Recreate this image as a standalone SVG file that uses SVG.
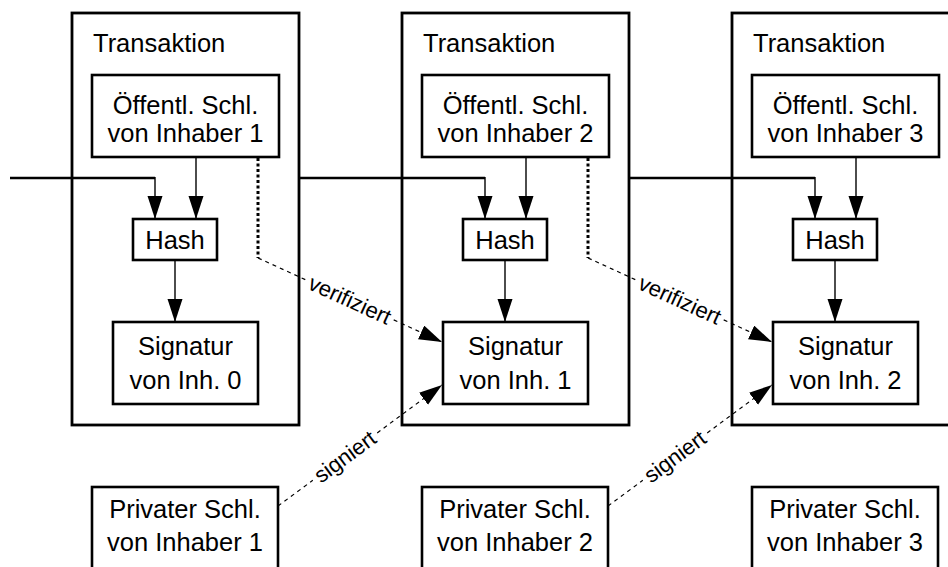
<svg xmlns="http://www.w3.org/2000/svg" width="948" height="567" viewBox="0 0 948 567">
<defs>
<marker id="ah" markerUnits="userSpaceOnUse" markerWidth="24" markerHeight="16" refX="23" refY="7.5" orient="auto">
<path d="M0,0 L23,7.5 L0,15 z" fill="#000"/>
</marker>
<style>
.outer{fill:#fff;stroke:#000;stroke-width:2.8}
.box{fill:#fff;stroke:#000;stroke-width:2.6}
.t{font-family:"Liberation Sans",Arial,sans-serif;font-size:25.5px;fill:#000}
.c{text-anchor:middle}
.lbl{font-family:"Liberation Sans",Arial,sans-serif;font-size:22px;fill:#000;text-anchor:middle;dominant-baseline:central}
.in{fill:none;stroke:#000;stroke-width:2.4}
.arr{fill:none;stroke:#000;stroke-width:1.4}
.dot{fill:none;stroke:#000;stroke-width:3;stroke-dasharray:3 2.5}
.dash{fill:none;stroke:#000;stroke-width:1.2;stroke-dasharray:4 4}
</style>
</defs>
<rect width="948" height="567" fill="#fff"/>

<g id="tx1"><rect class="outer" x="72" y="13" width="227" height="412"/><text class="t" x="93" y="52">Transaktion</text></g>
<g id="tx2"><rect class="outer" x="402" y="13" width="227" height="412"/><text class="t" x="423" y="52">Transaktion</text></g>
<g id="tx3"><rect class="outer" x="732" y="13" width="240" height="412"/><text class="t" x="753" y="52">Transaktion</text></g>

<g id="pub1"><rect class="box" x="92" y="75" width="187" height="82"/><text class="t c" x="185.5" y="114">Öffentl. Schl.</text><text class="t c" x="185.5" y="142">von Inhaber 1</text></g>
<g id="pub2"><rect class="box" x="422" y="75" width="187" height="82"/><text class="t c" x="515.5" y="114">Öffentl. Schl.</text><text class="t c" x="515.5" y="142">von Inhaber 2</text></g>
<g id="pub3"><rect class="box" x="752" y="75" width="187" height="82"/><text class="t c" x="845.5" y="114">Öffentl. Schl.</text><text class="t c" x="845.5" y="142">von Inhaber 3</text></g>

<g id="hash1"><rect class="box" x="133" y="219" width="84" height="41"/><text class="t c" x="175" y="249">Hash</text></g>
<g id="hash2"><rect class="box" x="463" y="219" width="84" height="41"/><text class="t c" x="505" y="249">Hash</text></g>
<g id="hash3"><rect class="box" x="793" y="219" width="84" height="41"/><text class="t c" x="835" y="249">Hash</text></g>

<g id="sig0"><rect class="box" x="113" y="322" width="145" height="82"/><text class="t c" x="185.5" y="355">Signatur</text><text class="t c" x="185.5" y="389">von Inh. 0</text></g>
<g id="sig1"><rect class="box" x="443" y="322" width="145" height="82"/><text class="t c" x="515.5" y="355">Signatur</text><text class="t c" x="515.5" y="389">von Inh. 1</text></g>
<g id="sig2"><rect class="box" x="773" y="322" width="145" height="82"/><text class="t c" x="845.5" y="355">Signatur</text><text class="t c" x="845.5" y="389">von Inh. 2</text></g>

<g id="priv1"><rect class="box" x="92" y="487" width="186" height="90"/><text class="t c" x="185" y="518">Privater Schl.</text><text class="t c" x="185" y="551">von Inhaber 1</text></g>
<g id="priv2"><rect class="box" x="422" y="487" width="186" height="90"/><text class="t c" x="515" y="518">Privater Schl.</text><text class="t c" x="515" y="551">von Inhaber 2</text></g>
<g id="priv3"><rect class="box" x="752" y="487" width="186" height="90"/><text class="t c" x="845" y="518">Privater Schl.</text><text class="t c" x="845" y="551">von Inhaber 3</text></g>

<g id="connectors">
<path class="in" d="M10,178 H155"/>
<path class="arr" d="M155,177 V219" marker-end="url(#ah)"/>
<path class="in" d="M299,178 H485"/>
<path class="arr" d="M485,177 V219" marker-end="url(#ah)"/>
<path class="in" d="M629,178 H815"/>
<path class="arr" d="M815,177 V219" marker-end="url(#ah)"/>

<path class="arr" d="M196,157 V219" marker-end="url(#ah)"/>
<path class="arr" d="M526,157 V219" marker-end="url(#ah)"/>
<path class="arr" d="M856,157 V219" marker-end="url(#ah)"/>

<path class="arr" d="M175,260 V322" marker-end="url(#ah)"/>
<path class="arr" d="M505,260 V322" marker-end="url(#ah)"/>
<path class="arr" d="M835,260 V322" marker-end="url(#ah)"/>

<path class="dot" d="M258,158 V258"/>
<path class="dash" d="M258,258 L306.3,280.1"/>
<path class="dash" d="M393.7,319.9 L442,342" marker-end="url(#ah)"/>
<text class="lbl" transform="translate(350,300) rotate(24.54)">verifiziert</text>

<path class="dot" d="M588,158 V258"/>
<path class="dash" d="M588,258 L636.3,280.1"/>
<path class="dash" d="M723.7,319.9 L772,342" marker-end="url(#ah)"/>
<text class="lbl" transform="translate(680,300) rotate(24.54)">verifiziert</text>

<path class="dash" d="M278,506 L312.8,480.3"/>
<path class="dash" d="M377.2,432.9 L442,385" marker-end="url(#ah)"/>
<text class="lbl" transform="translate(345,456.6) rotate(-36.42)">signiert</text>

<path class="dash" d="M608,506 L642.8,480.3"/>
<path class="dash" d="M707.2,432.9 L772,385" marker-end="url(#ah)"/>
<text class="lbl" transform="translate(675,456.6) rotate(-36.42)">signiert</text>
</g>
</svg>
